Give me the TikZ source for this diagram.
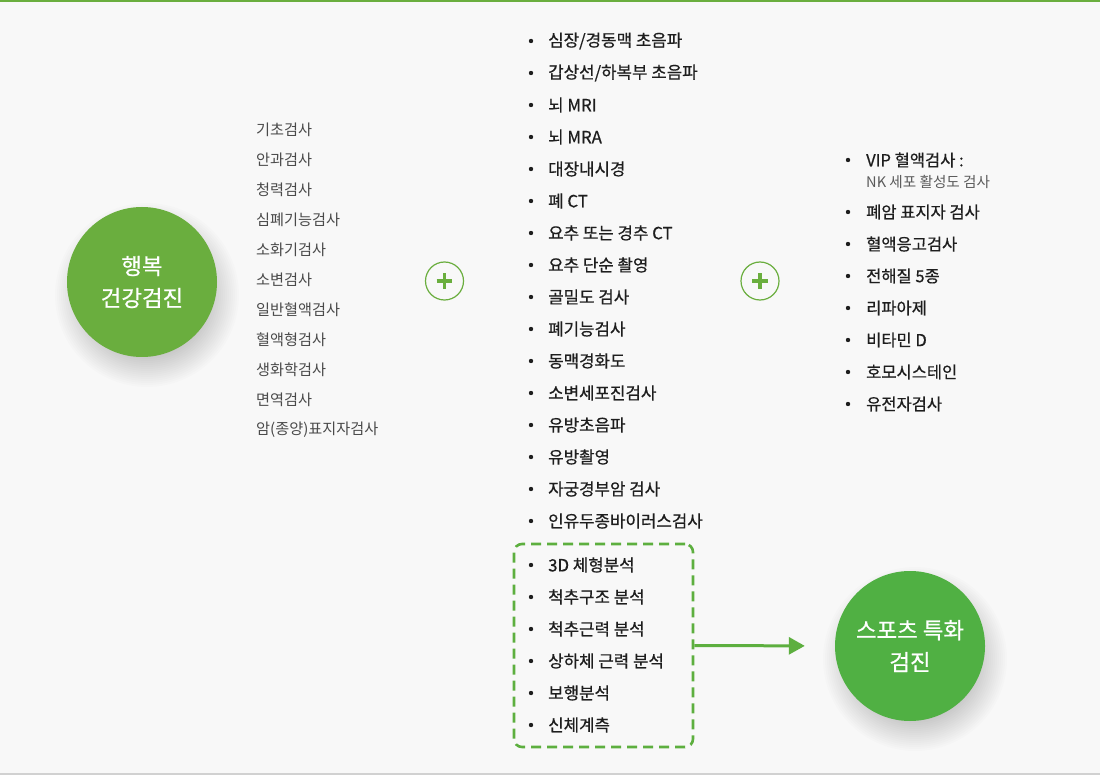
\documentclass[tikz,border=0pt]{standalone}
\usepackage{fontspec}
\setmainfont{Noto Sans CJK KR}
\newfontfamily\medfont[FakeBold=0.6]{Noto Sans CJK KR}
\usetikzlibrary{arrows.meta}
\definecolor{bg}{HTML}{F8F8F8}
\definecolor{gA}{HTML}{6AAE3E}
\definecolor{gB}{HTML}{50B043}
\definecolor{gline}{HTML}{5DAF3F}
\definecolor{txtL}{HTML}{4A4A4A}
\definecolor{txtM}{HTML}{1E1E1E}
\definecolor{txtS}{HTML}{5A5A5A}
\begin{document}
\begin{tikzpicture}[x=1pt,y=-1pt,
 litem/.style={anchor=west,inner sep=0pt,font=\fontsize{15.2}{17}\selectfont,text=txtL},
 mitem/.style={anchor=west,inner sep=0pt,font=\medfont\fontsize{16.8}{19}\selectfont,text=txtM},
 ritem/.style={anchor=west,inner sep=0pt,font=\medfont\fontsize{16.5}{19}\selectfont,text=txtM},
 sitem/.style={anchor=west,inner sep=0pt,font=\fontsize{14.6}{17}\selectfont,text=txtS},
 bul/.style={circle,fill=txtM,inner sep=0pt,minimum size=4.4pt},
 bigc/.style={circle,minimum size=150pt,inner sep=0pt,text=white,align=center,font=\medfont\fontsize{22.4}{32}\selectfont},
 plusc/.style={circle,draw=gA,line width=1.2pt,fill=bg,minimum size=38pt,inner sep=0pt},
 plusbar/.style={draw=gA,line width=3.4pt},
 dbox/.style={draw=gline,line width=2.6pt,dash pattern=on 10pt off 6pt,rounded corners=8pt,minimum width=179pt,minimum height=203pt,inner sep=0pt},
 arr/.style={draw=gline,line width=3pt,-{Triangle[length=16pt,width=17pt]}}]
\fill[bg] (0,0) rectangle (1100,775);
\useasboundingbox (0,0) rectangle (1100,775);
\fill[gA] (0,0) rectangle (1100,1.6);
\fill[black!18] (0,773) rectangle (1100,775);
% shadows
\foreach \cx/\cy in {142/282,910/646}{
  \foreach \r in {62,64,...,92}{
    \fill[black,opacity=0.011] (\cx+5,\cy+13) circle[radius=\r];
  }
}
% big circles
\node[bigc,fill=gA] (hb) at (142,282) {행복\\건강검진};
\node[bigc,fill=gB] (sp) at (910,646) {스포츠 특화\\검진};
% plus circles
\node[plusc] (p1) at (444.5,281) {};
\node[plusc] (p2) at (760,281) {};
\foreach \p in {p1,p2}{
  \draw[plusbar] ([xshift=-7.8pt]\p.center) -- ([xshift=7.8pt]\p.center);
  \draw[plusbar] ([yshift=-7.8pt]\p.center) -- ([yshift=7.8pt]\p.center);
}
% left list
\foreach \t [count=\i] in {기초검사,안과검사,청력검사,심폐기능검사,소화기검사,소변검사,일반혈액검사,혈액형검사,생화학검사,면역검사,암(종양)표지자검사}{
  \node[litem] (l\i) at (256,{130+30*(\i-1)}) {\t};
}
% middle list
\foreach \t [count=\i] in {심장/경동맥 초음파,갑상선/하복부 초음파,뇌 MRI,뇌 MRA,대장내시경,폐 CT,요추 또는 경추 CT,요추 단순 촬영,골밀도 검사,폐기능검사,동맥경화도,소변세포진검사,유방초음파,유방촬영,자궁경부암 검사,인유두종바이러스검사}{
  \node[bul] (mb\i) at (531,{41+32*(\i-1)}) {};
  \node[mitem] (m\i) at (548,{41+32*(\i-1)}) {\t};
}
% dashed box list
\node[dbox] (box) at (603.5,645.5) {};
\foreach \t [count=\i] in {3D 체형분석,척추구조 분석,척추근력 분석,상하체 근력 분석,보행분석,신체계측}{
  \node[bul] (sb\i) at (531,{565+32*(\i-1)}) {};
  \node[mitem] (s\i) at (548,{565+32*(\i-1)}) {\t};
}
% right list
\node[bul] (rb0) at (848,160) {};
\node[ritem] (r0) at (866,160) {VIP 혈액검사 :};
\node[sitem] (r0b) at (866,182) {NK 세포 활성도 검사};
\foreach \t [count=\i] in {폐암 표지자 검사,혈액응고검사,전해질 5종,리파아제,비타민 D,호모시스테인,유전자검사}{
  \node[bul] (rb\i) at (848,{212+32*(\i-1)}) {};
  \node[ritem] (r\i) at (866,{212+32*(\i-1)}) {\t};
}
% arrow
\draw[arr,shorten >=30pt] (box.east) -- (sp.west);
\end{tikzpicture}
\end{document}
